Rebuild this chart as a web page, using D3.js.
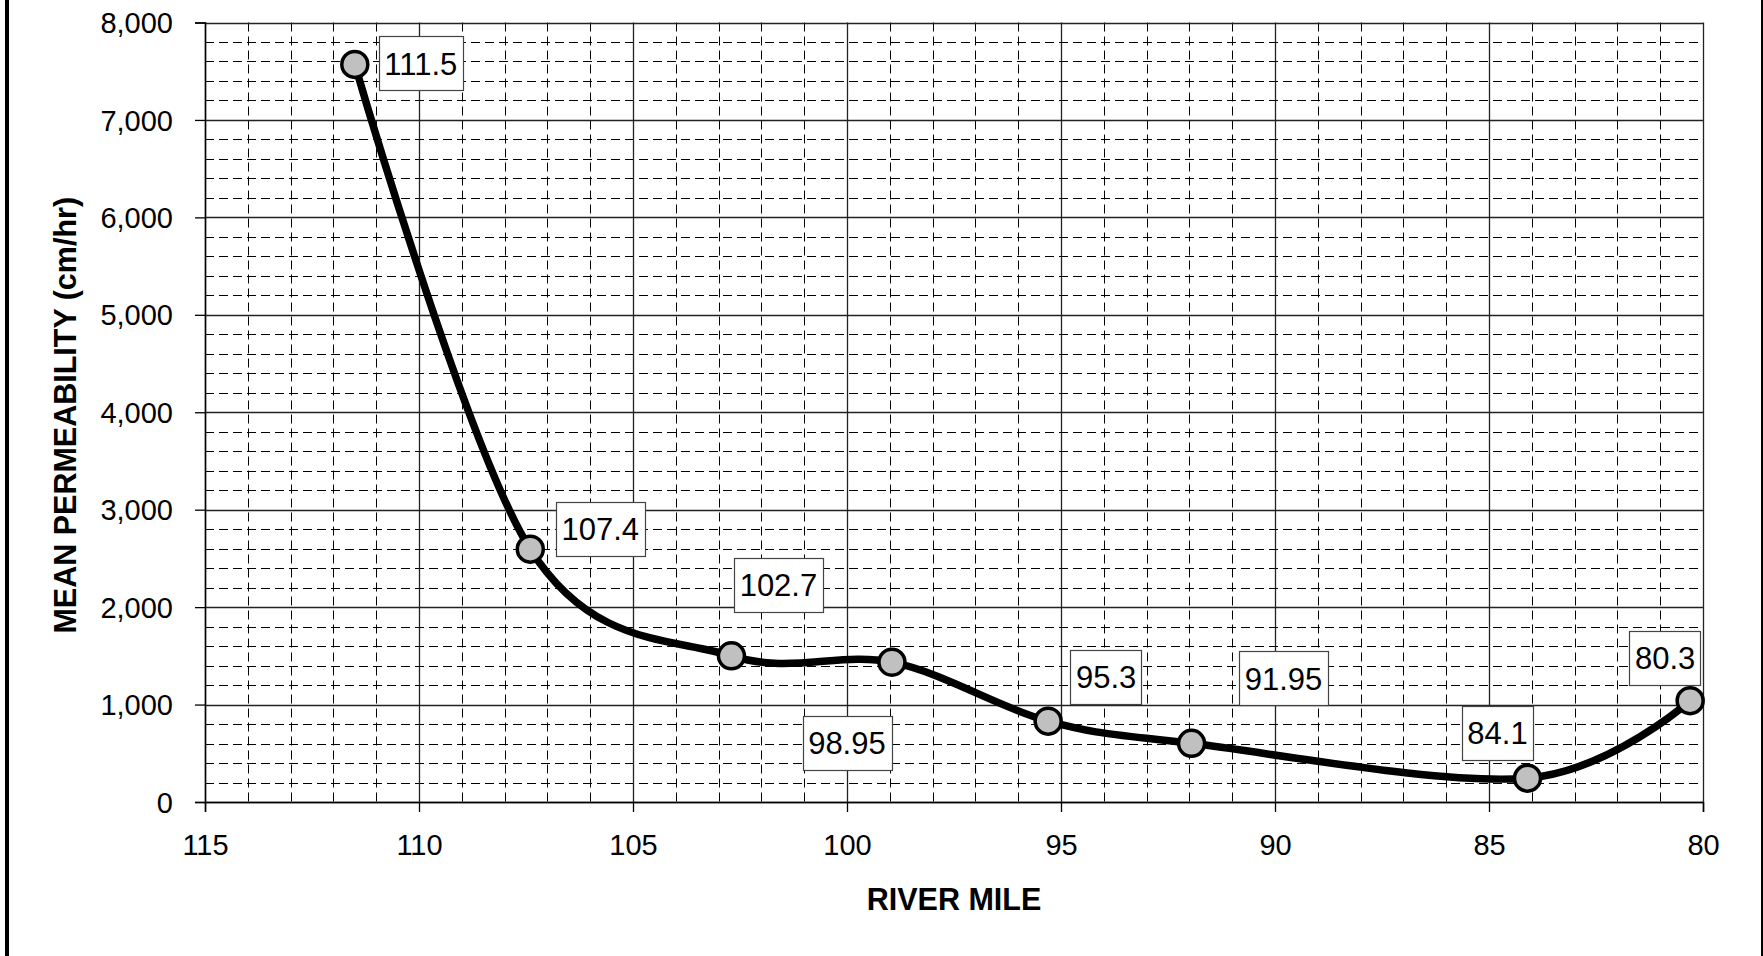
<!DOCTYPE html>
<html>
<head>
<meta charset="utf-8">
<script src="https://cdn.jsdelivr.net/npm/d3@7"></script>
<style>
  html, body { margin: 0; padding: 0; background: #fff; }
  svg { display: block; }
  text { font-family: "Liberation Sans", Arial, sans-serif; }
</style>
</head>
<body>
<svg id="chart" width="1763" height="956"></svg>
<script>
// ---- data ----
const riverMiles = [111.5, 107.4, 102.7, 98.95, 95.3, 91.95, 84.1, 80.3];
const permeability = [7570, 2595, 1500, 1435, 830, 602, 245, 1040];
const pointLabels = ["111.5", "107.4", "102.7", "98.95", "95.3", "91.95", "84.1", "80.3"];
const xTicks = [115, 110, 105, 100, 95, 90, 85, 80];
const yTicks = [0, 1000, 2000, 3000, 4000, 5000, 6000, 7000, 8000];
const xTitle = "RIVER MILE";
const yTitle = "MEAN PERMEABILITY (cm/hr)";

// ---- layout (label box offsets from points, px) ----
const labelOffsets = [[66, -1], [70, -20], [47, -71], [-45, 81], [58, -44], [92, -65], [-30, -45], [-25, -43]];

const W = 1763, H = 956;
const plot = { left: 205, right: 1703, top: 22.5, bottom: 802 };

const svg = d3.select("#chart");
const x = d3.scaleLinear().domain([115, 80]).range([plot.left, plot.right]);
const y = d3.scaleLinear().domain([0, 8000]).range([plot.bottom, plot.top]);

// page frame bars
svg.append("rect").attr("x", 5).attr("y", 0).attr("width", 4).attr("height", H).attr("fill", "#000");
svg.append("rect").attr("x", 1761).attr("y", 0).attr("width", 2).attr("height", H).attr("fill", "#000");

const g = svg.append("g");

// minor gridlines
const xMinor = d3.range(80, 115, 1).filter(v => v % 5 !== 0);
const yMinor = d3.range(200, 8000, 200).filter(v => v % 1000 !== 0);
g.append("g").selectAll("line").data(xMinor).join("line")
  .attr("x1", d => Math.round(x(d)) + 0.5).attr("x2", d => Math.round(x(d)) + 0.5)
  .attr("y1", plot.top).attr("y2", plot.bottom)
  .attr("stroke", "#000").attr("stroke-width", 1).attr("stroke-dasharray", "9,5");
g.append("g").selectAll("line").data(yMinor).join("line")
  .attr("y1", d => Math.round(y(d)) + 0.5).attr("y2", d => Math.round(y(d)) + 0.5)
  .attr("x1", plot.left).attr("x2", plot.right)
  .attr("stroke", "#000").attr("stroke-width", 1).attr("stroke-dasharray", "9,5");

// major gridlines
g.append("g").selectAll("line").data(xTicks).join("line")
  .attr("x1", d => Math.round(x(d)) + 0.5).attr("x2", d => Math.round(x(d)) + 0.5)
  .attr("y1", plot.top).attr("y2", plot.bottom)
  .attr("stroke", "#222").attr("stroke-width", 1.3);
g.append("g").selectAll("line").data(yTicks).join("line")
  .attr("y1", d => Math.round(y(d)) + 0.5).attr("y2", d => Math.round(y(d)) + 0.5)
  .attr("x1", plot.left).attr("x2", plot.right)
  .attr("stroke", "#222").attr("stroke-width", 1.3);

// axes
const xAxis = d3.axisBottom(x).tickValues(xTicks).tickSize(10).tickPadding(22).tickFormat(d3.format("d"));
const yAxis = d3.axisLeft(y).tickValues(yTicks).tickSize(10).tickPadding(22).tickFormat(d3.format(","));
const gx = svg.append("g").attr("transform", `translate(0,${plot.bottom})`).call(xAxis);
const gy = svg.append("g").attr("transform", `translate(${plot.left},0)`).call(yAxis);
[gx, gy].forEach(a => {
  a.select(".domain").attr("stroke", "#000").attr("stroke-width", 1.5);
  a.selectAll(".tick line").attr("stroke", "#000").attr("stroke-width", 1.3);
  a.selectAll(".tick text").attr("fill", "#000").style("font-size", "29px")
    .style("font-family", '"Liberation Sans", Arial, sans-serif');
});
gx.selectAll(".tick text").attr("dy", "0.71em");
gy.selectAll(".tick text").attr("dy", "0.35em");

// axis titles
svg.append("text").attr("x", (plot.left + plot.right) / 2).attr("y", 910)
  .attr("text-anchor", "middle").style("font-size", "30.5px").style("font-weight", "bold").text(xTitle);
svg.append("text").attr("transform", `translate(76,${(plot.top + plot.bottom) / 2 + 3}) rotate(-90)`)
  .attr("text-anchor", "middle").style("font-size", "30.5px").style("font-weight", "bold").text(yTitle);

// curve
const pts = riverMiles.map((m, i) => [x(m), y(permeability[i])]);
const line = d3.line().curve(d3.curveCardinal.tension(0));
svg.append("path").attr("d", line(pts)).attr("fill", "none")
  .attr("stroke", "#000").attr("stroke-width", 7.5).attr("stroke-linejoin", "round");

// markers
svg.append("g").selectAll("circle").data(pts).join("circle")
  .attr("cx", d => d[0]).attr("cy", d => d[1]).attr("r", 13)
  .attr("fill", "#c0c0c0").attr("stroke", "#000").attr("stroke-width", 3.5);

// labels
const lg = svg.append("g");
pointLabels.forEach((t, i) => {
  const cx = pts[i][0] + labelOffsets[i][0];
  const cy = pts[i][1] + labelOffsets[i][1];
  const grp = lg.append("g");
  const rect = grp.append("rect");
  const txt = grp.append("text").attr("x", cx).attr("y", cy).attr("dy", "0.36em")
    .attr("text-anchor", "middle").style("font-size", "31px").attr("fill", "#000").text(t);
  const w = txt.node().getComputedTextLength() + 11;
  const h = 54;
  rect.attr("x", Math.round(cx - w / 2) + 0.5).attr("y", Math.round(cy - h / 2) + 0.5)
    .attr("width", Math.round(w)).attr("height", h)
    .attr("fill", "#fff").attr("stroke", "#444").attr("stroke-width", 1.2);
});
</script>
</body>
</html>
